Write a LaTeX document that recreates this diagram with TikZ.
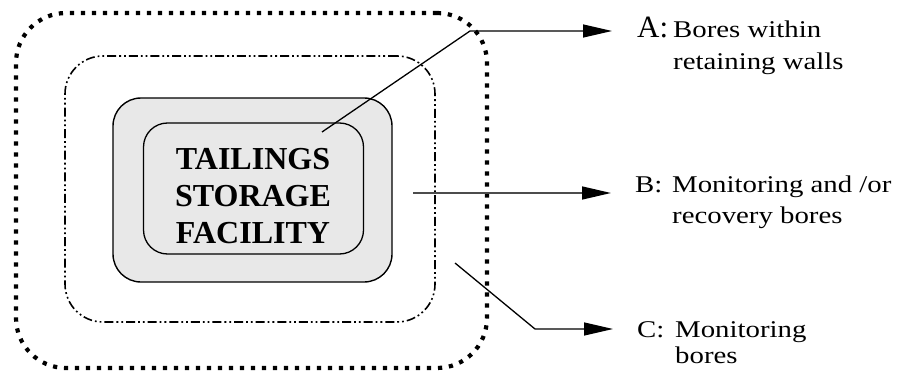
\documentclass[tikz,border=0pt]{standalone}
\usepackage{fontspec}
\setmainfont{Liberation Serif}
\newfontfamily\labelfont[FakeStretch=1.2]{Liberation Serif}
\usetikzlibrary{arrows.meta}
\tikzset{
  zone/.style={rounded corners=#1, inner sep=0pt},
  outerzone/.style={zone=50pt, draw, line width=4.2pt, dash pattern=on 4.2pt off 6.8pt},
  midzone/.style={zone=38pt, draw, line width=1.6pt, dash pattern=on 9pt off 3pt on 1.8pt off 3pt on 1.8pt off 3pt},
  damzone/.style={zone=28pt, draw, line width=1.4pt, fill=black!9},
  pondzone/.style={zone=24pt, draw, line width=1.3pt},
  leader/.style={line width=1.3pt, -{Triangle[length=29pt,width=13pt,color=black]}},
  tag/.style={anchor=base west, inner sep=0pt, font=\labelfont\fontsize{24}{28}\selectfont},
  bigtag/.style={anchor=base west, inner sep=0pt, font=\fontsize{31}{34}\selectfont},
}
\begin{document}
\begin{tikzpicture}[x=1pt, y=-1pt]
\useasboundingbox (0,0) rectangle (909,374);

% nested zones around the facility
\node[outerzone, minimum width=471pt, minimum height=355pt] (outer) at (251.5,190.5) {};
\node[midzone, minimum width=370pt, minimum height=266pt] (mid) at (250,189) {};
\node[damzone, minimum width=279pt, minimum height=184pt] (dam) at (252.5,190) {};
\node[pondzone, minimum width=220pt, minimum height=131pt] (pond) at (253.5,188.5) {};
\node[align=center, inner sep=0pt, font=\fontsize{32}{37}\selectfont\bfseries] (tsf) at (253,196) {TAILINGS\\STORAGE\\FACILITY};

% labels
\node[bigtag] (ka) at (637,38) {A:};
\node[tag] (la) at (673,38) {Bores within};
\node[tag] (la2) at (673,70) {retaining walls};
\node[tag] (kb) at (635,192) {B:};
\node[tag] (lb) at (672,192) {Monitoring and /or};
\node[tag] (lb2) at (672,223) {recovery bores};
\node[tag] (kc) at (637,337) {C:};
\node[tag] (lc) at (675,337) {Monitoring};
\node[tag] (lc2) at (675,363) {bores};

% leader lines
\coordinate (a0) at (322,132);
\coordinate (a1) at (470,31);
\coordinate (a2) at (612,31);
\coordinate (b0) at (413,193);
\coordinate (b2) at (611,193);
\coordinate (c0) at (455,263);
\coordinate (c1) at (535,329);
\coordinate (c2) at (613,329);

\draw[leader] (a0) -- (a1) -- (a2);
\draw[leader, draw=black!70, line width=1.5pt] (b0) -- (b2);
\draw[leader] (c0) -- (c1) -- (c2);
\end{tikzpicture}
\end{document}
